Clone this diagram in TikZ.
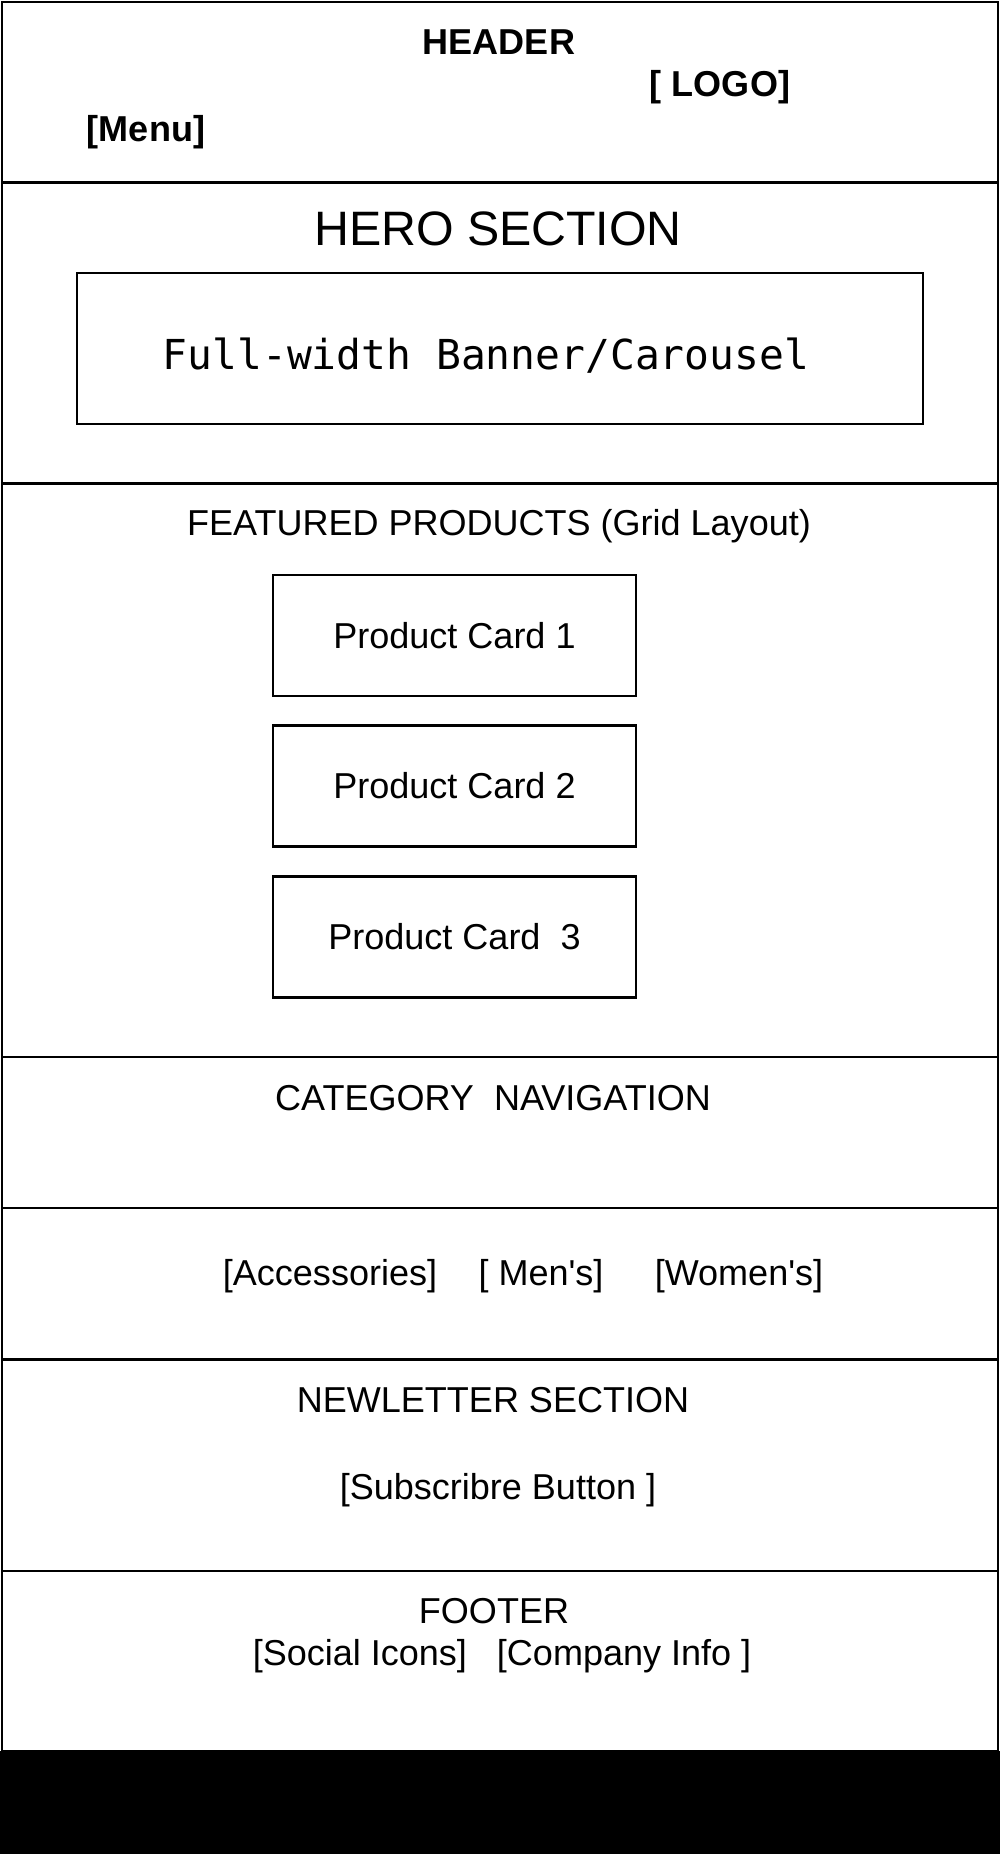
\documentclass[tikz,border=0pt]{standalone}
\usepackage{fontspec}
\setmainfont{Liberation Sans}[Ligatures=TeXOff]
\newfontfamily\monofont{DejaVu Sans Mono}
\tikzset{lbl/.style={inner sep=0pt,font=\fontsize{20.5}{24}\selectfont},
blbl/.style={inner sep=0pt,font=\fontsize{20.5}{24}\selectfont\bfseries},
card/.style={draw,lbl,minimum width=7.26cm,minimum height=2.42cm}}

\begin{document}
\begin{tikzpicture}[x=0.02cm,y=-0.02cm,line width=1.3pt]
\useasboundingbox(0,0)rectangle(1000,1854);
\fill[black](0,1751)rectangle(1000,1854);
\draw(2,2)rectangle(998,1751);
\foreach \y in {182.5,483.5,1057,1208,1359.5,1571}\draw(2,\y)--(998,\y);
\node[blbl](head)at(499,42){HEADER};\node[blbl](logo)at(720,87){[ LOGO]};\node[blbl](menu)at(146,132){[Menu]};
\node[lbl,font=\fontsize{27.5}{32}\selectfont](hero)at(498,229){HERO SECTION};
\node[draw,minimum width=16.92cm,minimum height=3.02cm](banner)at(500,348.5){};
\node[lbl,font=\monofont\fontsize{23.5}{28}\selectfont](bantxt)at(486,356){Full-width Banner/Carousel};
\node[lbl](feat)at(499,526){FEATURED PRODUCTS (Grid Layout)};
\node[card](pc1)at(454.5,635.5){Product Card 1};\node[card](pc2)at(454.5,786){Product Card 2};\node[card](pc3)at(454.5,937){Product Card\ \ 3};
\node[lbl](cat)at(493,1098){CATEGORY\ \ NAVIGATION};
\node[lbl](acc)at(330,1276){[Accessories]};\node[lbl](men)at(541,1276){[ Men's]};\node[lbl](wom)at(739,1276){[Women's]};
\node[lbl](news)at(493,1400){NEWLETTER SECTION};\node[lbl](sub)at(498,1490){[Subscribre Button ]};
\node[lbl](foot)at(494,1611){FOOTER};\node[lbl](info)at(502,1656){[Social Icons]\ \ \ [Company Info ]};
\end{tikzpicture}
\end{document}
